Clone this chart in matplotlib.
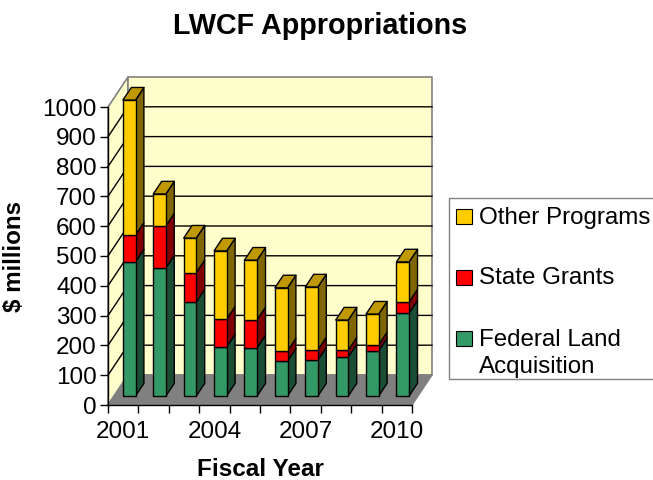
import matplotlib
matplotlib.use("Agg")
import matplotlib.pyplot as plt
from matplotlib.patches import Polygon, Rectangle

plt.rcParams['font.family'] = ['Liberation Sans', 'DejaVu Sans']

years = [2001, 2002, 2003, 2004, 2005, 2006, 2007, 2008, 2009, 2010]
federal = [450, 430, 316, 165, 162, 117, 121, 131, 152, 278]
state = [90, 141, 98, 93, 94, 34, 34, 23, 20, 38]
other = [453, 107, 116, 229, 200, 212, 211, 101, 103, 134]

# front, side, top colours
verde = ('#339966', '#1a4d33', '#267350')
rojo = ('#ff0000', '#800000', '#c00000')
amarillo = ('#ffcc00', '#806600', '#c09900')

W, H = 653, 480
DX = 20 / 30.4   # full depth of the chart in x units
DY = 30 / 0.298  # and in value units


def p(x, v, d):
    return (x + d * DX, v + d * DY)


def poli(ax, puntos, color, edge='black', lw=1.0, z=1):
    ax.add_patch(Polygon(puntos, closed=True, facecolor=color, edgecolor=edge,
                         linewidth=lw, zorder=z, clip_on=False, joinstyle='round'))


fig = plt.figure(figsize=(W / 100, H / 100), dpi=100, facecolor='white')
ax = fig.add_axes([108 / W, (H - 405) / H, 304 / W, 298 / H])
ax.set_xlim(0, 10)
ax.set_ylim(0, 1000)
ax.patch.set_visible(False)

# walls and floor
poli(ax, [p(0, 0, 0), p(0, 1000, 0), p(0, 1000, 1), p(0, 0, 1)], '#ffffcc', '#808080', 1.2)
poli(ax, [p(0, 0, 1), p(0, 1000, 1), p(10, 1000, 1), p(10, 0, 1)], '#ffffcc', '#808080', 1.2)
poli(ax, [p(0, 0, 0), p(10, 0, 0), p(10, 0, 1), p(0, 0, 1)], '#808080', '#808080', 1.0)

# top line of the walls stays grey
for v in range(100, 1000, 100):
    a, b, c = p(0, v, 0), p(0, v, 1), p(10, v, 1)
    ax.plot([a[0], b[0], c[0]], [a[1], b[1], c[1]], color='black', lw=1.0,
            zorder=2, clip_on=False, solid_joinstyle='miter')

# bars
ancho = 0.415
d0, d1 = 0.3, 0.72
series = [(federal, verde), (state, rojo), (other, amarillo)]
for i in range(len(years)):
    x0 = i + 0.5 - ancho / 2
    x1 = x0 + ancho
    base = 0
    for valores, cols in series:
        top = base + valores[i]
        poli(ax, [p(x1, base, d0), p(x1, base, d1), p(x1, top, d1), p(x1, top, d0)], cols[1], z=3)
        poli(ax, [p(x0, base, d0), p(x1, base, d0), p(x1, top, d0), p(x0, top, d0)], cols[0], z=3)
        base = top
    poli(ax, [p(x0, base, d0), p(x1, base, d0), p(x1, base, d1), p(x0, base, d1)],
         amarillo[2], z=3)

# axes
for s in ('top', 'right'):
    ax.spines[s].set_visible(False)
for s in ('left', 'bottom'):
    ax.spines[s].set_zorder(5)
    ax.spines[s].set_linewidth(1.0)
ax.set_yticks(range(0, 1001, 100))
ax.tick_params(axis='y', length=6, width=1.0, labelsize=17.5, pad=2)
ax.set_xticks(range(11))
ax.set_xticklabels([])
ax.tick_params(axis='x', which='major', length=6, width=1.0)
ax.set_xticks([i + 0.5 for i in range(0, 10, 3)], minor=True)
ax.set_xticklabels([str(years[i]) for i in range(0, 10, 3)], minor=True, fontsize=17.5)
ax.tick_params(axis='x', which='minor', length=0, pad=11.5)

# titles
fig.text(320 / W, 1 - 26 / H, 'LWCF Appropriations', ha='center', va='center',
         fontsize=20.7, fontweight='bold')
fig.text(260 / W, 1 - 469.5 / H, 'Fiscal Year', ha='center', va='center',
         fontsize=17.5, fontweight='bold')
fig.text(15 / W, 1 - 256 / H, '$ millions', ha='center', va='center', rotation=90,
         fontsize=17.4, fontweight='bold')

# legend
fig.add_artist(Rectangle((449 / W, 1 - 379 / H), 215 / W, 181 / H, transform=fig.transFigure,
                         facecolor='white', edgecolor='#808080', linewidth=1.0, clip_on=True))
etiquetas = ['Other Programs', 'State Grants', 'Federal Land\nAcquisition']
colores = [amarillo[0], rojo[0], verde[0]]
ys = [216.5, 277, 338.5]
for et, col, yy in zip(etiquetas, colores, ys):
    fig.add_artist(Rectangle((456 / W, 1 - (yy + 7.5) / H), 16 / W, 15 / H,
                             transform=fig.transFigure, facecolor=col,
                             edgecolor='black', linewidth=0.8))
    fig.text(478.5 / W, 1 - (yy - 9.5) / H, et, ha='left', va='top', fontsize=17.4,
             linespacing=1.3)

fig.savefig('out.png', dpi=100)
